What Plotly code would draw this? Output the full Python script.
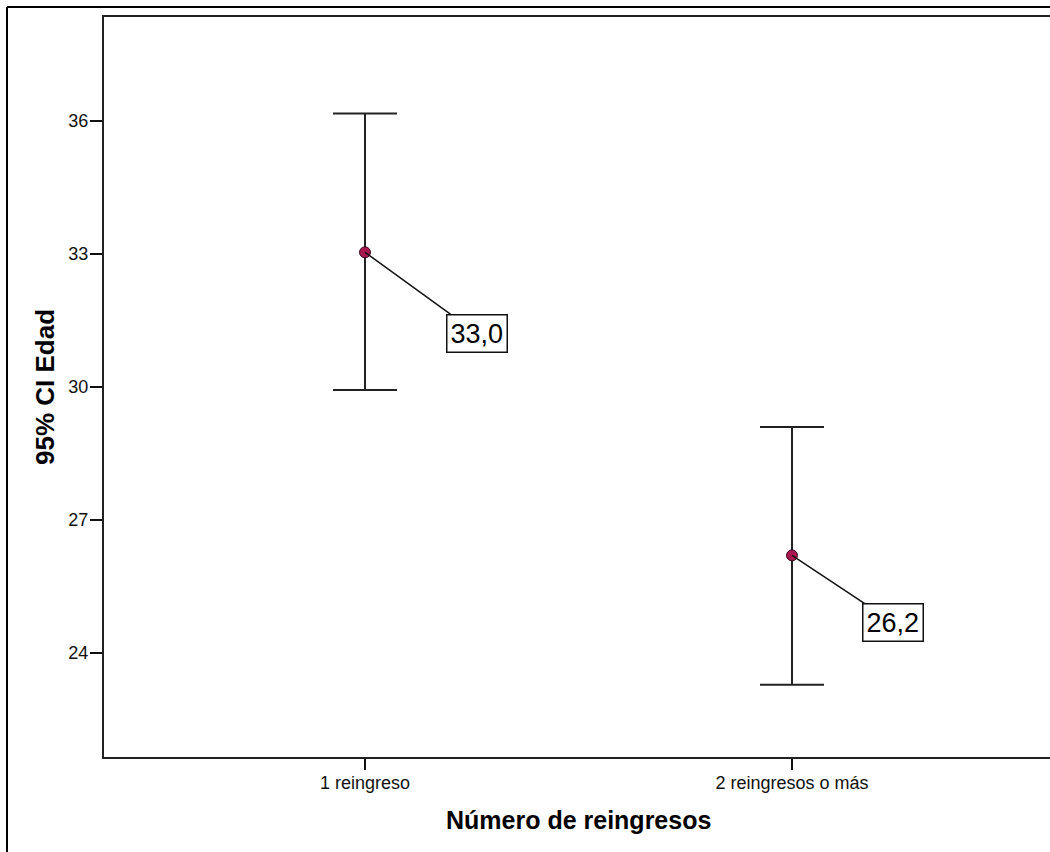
import plotly.graph_objects as go

# Age (Edad) by number of readmissions: mean with 95% confidence interval
categories = ["1 reingreso", "2 reingresos o más"]
cat_pos = [1, 2]
mean_age = [33.04, 26.20]
ci_lower = [29.93, 23.28]
ci_upper = [36.17, 29.10]
y_ticks = [24, 27, 30, 33, 36]

W, H = 1050, 852
ML, MT, MB, MR = 104, 17, 95, 0
plot_w = W - ML - MR
plot_h = H - MT - MB

err_plus = [u - m for u, m in zip(ci_upper, mean_age)]
err_minus = [m - l for m, l in zip(mean_age, ci_lower)]

FONT = "Liberation Sans, Arial, sans-serif"

fig = go.Figure()
fig.add_trace(go.Scatter(
    x=cat_pos,
    y=mean_age,
    mode="markers",
    marker=dict(size=11, color="#a8174f", line=dict(color="#3a0a1e", width=1)),
    error_y=dict(
        type="data",
        symmetric=False,
        array=err_plus,
        arrayminus=err_minus,
        width=32,
        thickness=2,
        color="#222222",
    ),
    showlegend=False,
    hoverinfo="skip",
))

# value labels with leader lines
label_offsets = [(112, 81), (101, 67)]
for xp, m, (ax, ay) in zip(cat_pos, mean_age, label_offsets):
    fig.add_annotation(
        x=xp, y=m, xref="x", yref="y",
        text=f"{m:.1f}".replace(".", ","),
        showarrow=True, arrowhead=0, arrowwidth=1.5, arrowcolor="#111111",
        ax=ax, ay=ay, standoff=0, startstandoff=0,
        font=dict(family=FONT, size=27, color="#000000"),
        bgcolor="#ffffff", bordercolor="#111111", borderwidth=1.5, borderpad=3,
    )

# axis titles
fig.add_annotation(
    x=0, y=0.5, xref="paper", yref="paper", xshift=45 - ML,
    text="<b>95% CI Edad</b>", textangle=-90, showarrow=False,
    xanchor="center", yanchor="middle",
    font=dict(family=FONT, size=26, color="#000000"),
)
fig.add_annotation(
    x=(578 - ML) / plot_w, y=0, xref="paper", yref="paper", yshift=-(820 - (H - MB)),
    text="<b>Número de reingresos</b>", showarrow=False,
    xanchor="center", yanchor="middle",
    font=dict(family=FONT, size=25, color="#000000"),
)

# outer frame (left and top edges)
fx = (7 - ML) / plot_w
fy = (H - MB - 7) / plot_h
fig.add_shape(type="line", xref="paper", yref="paper",
              x0=fx, x1=fx, y0=fy, y1=-0.3, line=dict(color="#000000", width=2))
fig.add_shape(type="line", xref="paper", yref="paper",
              x0=fx, x1=1.2, y0=fy, y1=fy, line=dict(color="#000000", width=2))

x_left = 1 - (365 - ML) / 427
x_right = 2 + (W - MR - 792) / 427

fig.update_layout(
    width=W, height=H,
    margin=dict(l=ML, r=MR, t=MT, b=MB, pad=0),
    paper_bgcolor="#ffffff",
    plot_bgcolor="#ffffff",
    font=dict(family=FONT, color="#000000"),
    xaxis=dict(
        range=[x_left, x_right],
        tickvals=cat_pos, ticktext=categories,
        showgrid=False, zeroline=False,
        showline=True, linecolor="#222222", linewidth=2, mirror=True,
        ticks="outside", ticklen=11, tickwidth=2, tickcolor="#111111",
        tickfont=dict(size=18, color="#111111"),
        ticklabelstandoff=-3,
    ),
    yaxis=dict(
        range=[21.65, 38.35],
        tickvals=y_ticks,
        showgrid=False, zeroline=False,
        showline=True, linecolor="#222222", linewidth=2, mirror=False,
        ticks="outside", ticklen=12, tickwidth=2, tickcolor="#111111",
        tickfont=dict(size=18, color="#111111"),
        ticklabelstandoff=-2,
    ),
)

fig.write_html("out.html")
